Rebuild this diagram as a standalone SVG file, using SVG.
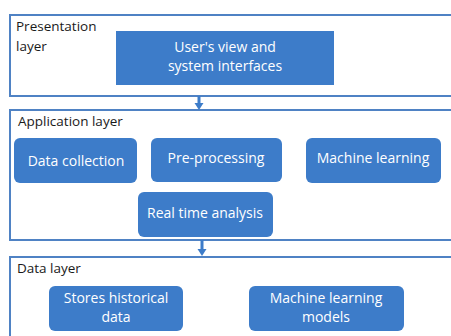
<svg xmlns="http://www.w3.org/2000/svg" width="451" height="336" viewBox="0 0 451 336">
  <style>
    .frame { fill: #ffffff; stroke: #4f82c4; stroke-width: 2; }
    .box { fill: #3d7cc9; }
    .lbl { font-family: "Open Sans", "Noto Sans", sans-serif; font-size: 13.5px; fill: #1a1a1a; }
    .txt { font-family: "Open Sans", "Noto Sans", sans-serif; font-size: 14px; fill: #ffffff; text-anchor: middle; }
    .conn { stroke: #3d7cc9; stroke-width: 3; fill: none; }
    .head { fill: #3d7cc9; }
  </style>
  <rect width="451" height="336" fill="#ffffff"/>

  <!-- Presentation layer -->
  <g id="presentation-layer">
    <rect class="frame" x="10" y="15" width="450" height="81"/>
    <text class="lbl" x="16" y="31">Presentation</text>
    <text class="lbl" x="16" y="51">layer</text>
  </g>
  <g id="users-view">
    <rect class="box" x="116" y="31" width="218" height="54"/>
    <text class="txt" x="225" y="52">User's view and</text>
    <text class="txt" x="225" y="71">system interfaces</text>
  </g>

  <!-- Application layer -->
  <g id="application-layer">
    <rect class="frame" x="10" y="110" width="450" height="130"/>
    <text class="lbl" x="18" y="126">Application layer</text>
  </g>
  <g id="data-collection">
    <rect class="box" x="14" y="138" width="123" height="45" rx="6"/>
    <text class="txt" x="76" y="166">Data collection</text>
  </g>
  <g id="pre-processing">
    <rect class="box" x="151" y="138" width="131" height="44" rx="6"/>
    <text class="txt" x="216" y="163">Pre-processing</text>
  </g>
  <g id="machine-learning">
    <rect class="box" x="306" y="138" width="135" height="45" rx="6"/>
    <text class="txt" x="373" y="163">Machine learning</text>
  </g>
  <g id="real-time-analysis">
    <rect class="box" x="138" y="192" width="135" height="45" rx="6"/>
    <text class="txt" x="205" y="218">Real time analysis</text>
  </g>

  <!-- Data layer -->
  <g id="data-layer">
    <rect class="frame" x="10" y="257" width="450" height="90"/>
    <text class="lbl" x="17" y="273">Data layer</text>
  </g>
  <g id="historical-data">
    <rect class="box" x="49" y="286" width="134" height="45" rx="6"/>
    <text class="txt" x="116" y="303">Stores historical</text>
    <text class="txt" x="116" y="322">data</text>
  </g>
  <g id="ml-models">
    <rect class="box" x="249" y="286" width="155" height="45" rx="6"/>
    <text class="txt" x="326" y="303">Machine learning</text>
    <text class="txt" x="326" y="322">models</text>
  </g>

  <!-- Connectors between layers -->
  <g id="connectors">
    <line class="conn" x1="199" y1="96" x2="199" y2="104"/>
    <polygon class="head" points="194.5,103 203.5,103 199,110"/>
    <line class="conn" x1="202" y1="240" x2="202" y2="250"/>
    <polygon class="head" points="197.5,249 206.5,249 202,256"/>
  </g>
</svg>
